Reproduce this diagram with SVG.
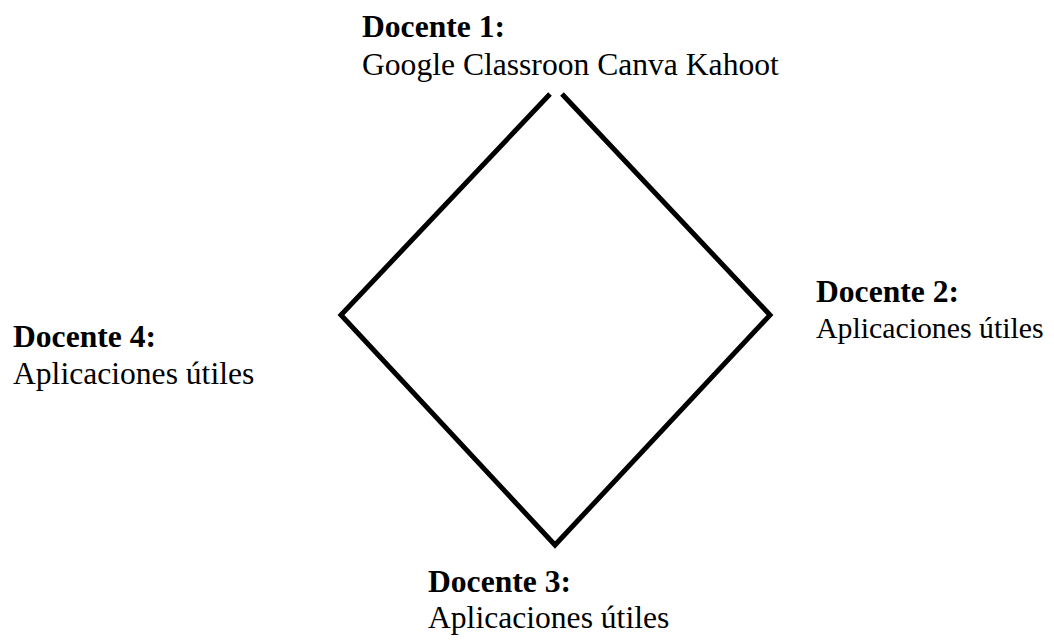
<svg xmlns="http://www.w3.org/2000/svg" width="1054" height="641" viewBox="0 0 1054 641">
<style>
text{font-family:"Liberation Serif","Times New Roman",serif;font-size:31.6px;fill:#000}
.b{font-weight:bold}
.shape{fill:none;stroke:#000;stroke-width:5;stroke-linejoin:miter}
</style>
<rect width="1054" height="641" fill="#fff"/>
<g id="connectors">
<polyline class="shape" points="550,94 341,315 555,545 770,315 562,94"/>
</g>
<g id="docente1"><text x="362" y="37" class="b">Docente 1:</text><text x="362" y="75">Google Classroon Canva Kahoot</text></g>
<g id="docente2"><text x="816" y="302" class="b">Docente 2:</text><text x="816" y="338" style="font-size:29.8px">Aplicaciones útiles</text></g>
<g id="docente3"><text x="428" y="592" class="b">Docente 3:</text><text x="428" y="628">Aplicaciones útiles</text></g>
<g id="docente4"><text x="13" y="347" class="b">Docente 4:</text><text x="13" y="384">Aplicaciones útiles</text></g>
</svg>
